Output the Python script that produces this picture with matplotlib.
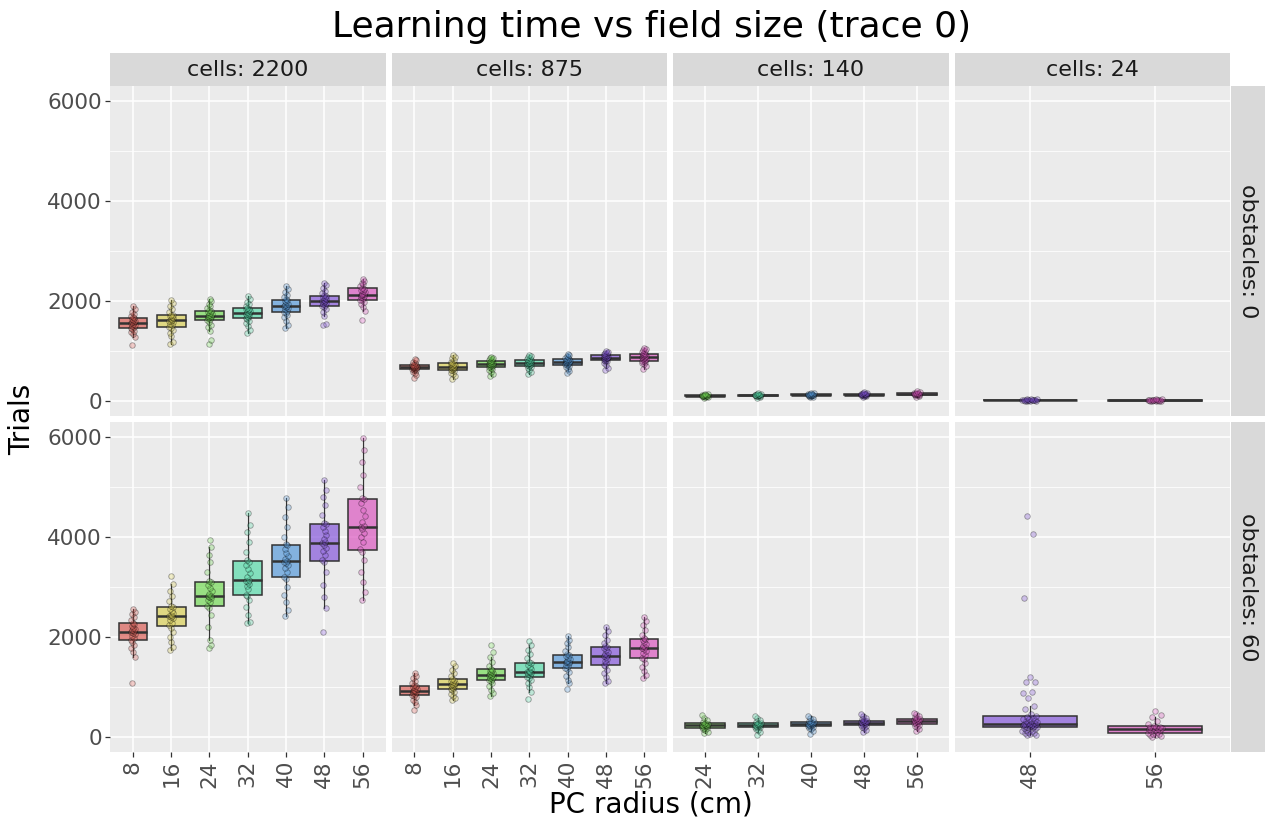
import colorsys

import matplotlib
matplotlib.use("Agg")
import matplotlib.pyplot as plt
import numpy as np
from matplotlib import cbook

W, H = 1266, 823

RADII = [8, 16, 24, 32, 40, 48, 56]
CELLS = [2200, 875, 140, 24]
OBSTACLES = [0, 60]

# radii that were run for each population size (free x scale per column)
RADII_2200 = [8, 16, 24, 32, 40, 48, 56]
RADII_875 = [8, 16, 24, 32, 40, 48, 56]
RADII_140 = [24, 32, 40, 48, 56]
RADII_24 = [48, 56]

# trials to learn, one list per radius, obstacles: 0
OBS0_CELLS2200 = [
    [1113, 1290, 1340, 1380, 1410, 1440, 1465, 1490, 1510, 1530, 1550, 1560, 1575, 1590, 1605, 1625, 1640, 1655, 1680, 1710, 1750, 1790, 1850, 1900],
    [1150, 1190, 1300, 1370, 1420, 1460, 1490, 1520, 1550, 1575, 1595, 1605, 1620, 1640, 1660, 1680, 1700, 1715, 1730, 1780, 1840, 1900, 1960, 2030],
    [1133, 1213, 1400, 1480, 1530, 1590, 1630, 1645, 1660, 1675, 1690, 1697, 1703, 1720, 1740, 1760, 1785, 1805, 1820, 1860, 1900, 1950, 2000, 2050],
    [1370, 1430, 1500, 1560, 1610, 1640, 1655, 1680, 1700, 1720, 1735, 1748, 1758, 1775, 1795, 1815, 1835, 1850, 1860, 1900, 1950, 1990, 2040, 2100],
    [1470, 1530, 1600, 1680, 1730, 1765, 1775, 1810, 1840, 1865, 1885, 1895, 1905, 1925, 1950, 1975, 2000, 2020, 2035, 2080, 2130, 2180, 2240, 2300],
    [1513, 1545, 1700, 1790, 1850, 1885, 1900, 1925, 1950, 1970, 1985, 1995, 2005, 2020, 2040, 2060, 2085, 2100, 2115, 2160, 2210, 2260, 2320, 2367],
    [1613, 1800, 1880, 1940, 1990, 2015, 2030, 2055, 2080, 2100, 2115, 2122, 2132, 2150, 2175, 2200, 2230, 2250, 2260, 2300, 2340, 2370, 2400, 2433],
]
OBS0_CELLS875 = [
    [470, 520, 560, 590, 615, 630, 638, 648, 658, 665, 670, 672, 675, 680, 690, 698, 705, 712, 716, 730, 760, 790, 820, 850],
    [440, 500, 540, 570, 600, 615, 625, 640, 655, 668, 678, 684, 690, 700, 712, 725, 740, 750, 758, 790, 830, 860, 890, 920],
    [500, 550, 590, 620, 650, 668, 680, 695, 708, 718, 726, 731, 736, 745, 755, 768, 782, 797, 805, 820, 840, 855, 870, 880],
    [550, 590, 630, 660, 690, 703, 712, 725, 735, 745, 752, 758, 762, 770, 782, 795, 808, 818, 825, 845, 865, 885, 905, 920],
    [560, 610, 650, 680, 710, 723, 732, 748, 760, 770, 780, 785, 789, 798, 808, 818, 830, 838, 845, 865, 885, 905, 930, 950],
    [620, 670, 720, 760, 795, 810, 818, 830, 842, 852, 860, 865, 869, 878, 888, 898, 910, 918, 925, 940, 955, 970, 985, 1000],
    [650, 700, 740, 770, 790, 797, 806, 820, 835, 850, 866, 877, 883, 895, 910, 922, 935, 945, 952, 975, 995, 1020, 1045, 1070],
]
OBS0_CELLS140 = [
    [60, 75, 85, 92, 97, 100, 103, 104, 106, 108, 111, 115, 118, 125, 135, 150],
    [70, 85, 95, 102, 106, 109, 112, 114, 116, 119, 122, 126, 130, 137, 148, 160],
    [75, 90, 100, 108, 113, 116, 119, 121, 123, 126, 130, 134, 138, 145, 155, 170],
    [80, 95, 108, 116, 121, 124, 127, 129, 131, 134, 138, 143, 148, 155, 165, 180],
    [90, 105, 117, 125, 130, 134, 137, 139, 141, 145, 149, 154, 160, 168, 178, 195],
]
OBS0_CELLS24 = [
    [2, 5, 8, 10, 12, 14, 16, 18, 20, 22, 24, 26, 29, 33, 38, 45],
    [2, 4, 6, 8, 10, 11, 12, 14, 15, 17, 19, 21, 24, 28, 33, 40],
]

# trials to learn, one list per radius, obstacles: 60
OBS60_CELLS2200 = [
    [1087, 1600, 1700, 1780, 1850, 1910, 1945, 1990, 2030, 2060, 2085, 2100, 2115, 2135, 2160, 2190, 2230, 2265, 2290, 2350, 2410, 2460, 2510, 2560],
    [1740, 1800, 1900, 2000, 2100, 2190, 2240, 2290, 2340, 2380, 2405, 2415, 2425, 2450, 2490, 2530, 2570, 2600, 2630, 2720, 2820, 2920, 3070, 3220],
    [1773, 1840, 1940, 2200, 2450, 2590, 2630, 2700, 2740, 2780, 2805, 2815, 2825, 2860, 2920, 2980, 3040, 3100, 3130, 3300, 3500, 3650, 3800, 3940],
    [2273, 2300, 2450, 2600, 2750, 2820, 2850, 2960, 3020, 3070, 3110, 3130, 3150, 3200, 3280, 3360, 3440, 3500, 3550, 3700, 3900, 4100, 4250, 4473],
    [2420, 2550, 2700, 2850, 3000, 3170, 3200, 3300, 3380, 3440, 3490, 3510, 3530, 3570, 3620, 3690, 3770, 3840, 3870, 4000, 4200, 4400, 4600, 4773],
    [2107, 2573, 2800, 3050, 3300, 3500, 3540, 3650, 3720, 3790, 3850, 3875, 3900, 3960, 4040, 4120, 4200, 4260, 4290, 4450, 4650, 4800, 4950, 5140],
    [2740, 2900, 3100, 3300, 3550, 3700, 3755, 3900, 4000, 4080, 4160, 4195, 4220, 4300, 4420, 4550, 4680, 4760, 4790, 5000, 5250, 5500, 5750, 5973],
]
OBS60_CELLS875 = [
    [540, 650, 700, 750, 800, 830, 850, 870, 890, 905, 918, 925, 930, 945, 965, 985, 1005, 1022, 1040, 1080, 1130, 1180, 1230, 1273],
    [740, 790, 830, 870, 910, 945, 965, 990, 1010, 1030, 1045, 1050, 1056, 1070, 1090, 1110, 1130, 1150, 1165, 1220, 1280, 1350, 1420, 1487],
    [820, 880, 950, 1020, 1080, 1120, 1135, 1160, 1190, 1210, 1230, 1237, 1243, 1260, 1285, 1310, 1330, 1350, 1365, 1420, 1500, 1600, 1707, 1833],
    [753, 900, 1000, 1080, 1150, 1185, 1200, 1240, 1265, 1285, 1300, 1305, 1310, 1330, 1370, 1410, 1450, 1475, 1495, 1580, 1660, 1750, 1850, 1927],
    [953, 1080, 1150, 1230, 1300, 1360, 1375, 1420, 1450, 1480, 1500, 1505, 1510, 1530, 1560, 1590, 1620, 1645, 1655, 1720, 1800, 1880, 1950, 2020],
    [1073, 1120, 1200, 1280, 1350, 1415, 1440, 1480, 1530, 1570, 1610, 1622, 1632, 1660, 1700, 1740, 1780, 1805, 1815, 1880, 1950, 2050, 2130, 2207],
    [1173, 1250, 1330, 1400, 1480, 1560, 1575, 1650, 1690, 1730, 1765, 1780, 1795, 1830, 1870, 1910, 1940, 1965, 1975, 2050, 2150, 2250, 2330, 2407],
]
OBS60_CELLS140 = [
    [73, 110, 140, 165, 180, 190, 200, 212, 222, 230, 236, 242, 250, 262, 270, 282, 300, 340, 390, 440],
    [40, 100, 140, 170, 195, 202, 210, 220, 230, 237, 243, 250, 258, 268, 278, 288, 310, 350, 390, 427],
    [53, 120, 160, 185, 208, 215, 225, 235, 245, 256, 264, 270, 280, 290, 298, 308, 325, 355, 390, 420],
    [107, 150, 180, 205, 228, 236, 248, 260, 272, 283, 291, 298, 306, 316, 325, 335, 355, 385, 420, 453],
    [120, 170, 200, 230, 248, 258, 272, 288, 302, 315, 325, 333, 342, 353, 365, 375, 395, 425, 455, 487],
]
OBS60_CELLS24 = [
    [40, 50, 62, 75, 88, 100, 115, 130, 145, 160, 172, 185,
     193, 200, 207, 214, 221, 228, 235, 242, 249, 255, 260, 264,
     270, 280, 290, 300, 312, 325, 340, 355, 370, 385, 400, 415,
     460, 560, 620, 790, 873, 907, 1093, 1107, 1193, 2787, 4060, 4427],
    [7, 20, 35, 48, 60, 70, 75, 100, 120, 135, 148, 156, 164, 172, 182, 192, 202, 210, 222, 260, 320, 400, 433, 527],
]

PANEL_RADII = [RADII_2200, RADII_875, RADII_140, RADII_24]
PANEL_DATA = [
    [OBS0_CELLS2200, OBS0_CELLS875, OBS0_CELLS140, OBS0_CELLS24],
    [OBS60_CELLS2200, OBS60_CELLS875, OBS60_CELLS140, OBS60_CELLS24],
]

# panel geometry in pixels
PANEL_X = [110, 391.5, 673, 954.5]
PANEL_W = 275.5
ROW_Y = [86, 422]
PANEL_H = 330
STRIP = 33

BG = "#EBEBEB"
STRIP_BG = "#D9D9D9"
DARK = "#333333"


def hls_colors(n, h=0.01, l=0.6, s=0.65):
    hues = (np.arange(n) / n + h) % 1
    return [colorsys.hls_to_rgb(hh, l, s) for hh in hues]


COLORS = dict(zip(RADII, hls_colors(len(RADII))))


def rect(x, y, w, h):
    return [x / W, 1 - (y + h) / H, w / W, h / H]


def jitter(n, width=0.06):
    return ((np.arange(n) * 0.618034 + 0.31) % 1 - 0.5) * 2 * width


def draw_panel(ax, radii, groups, show_y, show_x):
    n = len(radii)
    pos = np.arange(1, n + 1)
    ax.set_facecolor(BG)
    for side in ax.spines.values():
        side.set_visible(False)

    stats = cbook.boxplot_stats([np.asarray(g, float) for g in groups], whis=1.5)
    bp = ax.bxp(stats, positions=pos, widths=0.75, patch_artist=True,
                showfliers=False, showcaps=False, manage_ticks=False,
                boxprops=dict(edgecolor=DARK, linewidth=1.1),
                medianprops=dict(color=DARK, linewidth=1.8),
                whiskerprops=dict(color=DARK, linewidth=0.9))
    for patch, r in zip(bp["boxes"], radii):
        patch.set_facecolor((*COLORS[r], 0.7))
        patch.set_zorder(2)

    for p, r, g in zip(pos, radii, groups):
        vals = np.sort(np.asarray(g, float))
        ax.scatter(p + jitter(len(vals)), vals, s=16,
                   facecolor=(*COLORS[r], 0.3), edgecolor=(0, 0, 0, 0.35),
                   linewidth=0.6, zorder=3)

    ax.set_xlim(0.4, n + 0.6)
    ax.set_ylim(-300, 6300)
    ax.set_yticks([0, 2000, 4000, 6000])
    ax.set_yticks([1000, 3000, 5000], minor=True)
    ax.set_xticks(pos)
    ax.set_xticklabels([str(r) for r in radii], rotation=90)
    ax.grid(which="major", color="white", linewidth=1.1)
    ax.grid(which="minor", axis="y", color="white", linewidth=0.55)
    ax.set_axisbelow(True)
    ax.tick_params(axis="both", which="major", length=3.3, width=0.9,
                   color=DARK, labelcolor="#4D4D4D", labelsize=15.5, pad=2.5)
    ax.tick_params(axis="y", which="minor", length=0)
    if not show_y:
        ax.tick_params(axis="y", which="major", length=0, labelleft=False)
    if not show_x:
        ax.tick_params(axis="x", length=0, labelbottom=False)


fig = plt.figure(figsize=(W / 100, H / 100), dpi=100)

for row, obst in enumerate(OBSTACLES):
    for col, cells in enumerate(CELLS):
        ax = fig.add_axes(rect(PANEL_X[col], ROW_Y[row], PANEL_W, PANEL_H))
        draw_panel(ax, PANEL_RADII[col], PANEL_DATA[row][col],
                   show_y=(col == 0), show_x=(row == 1))

    # facet strip on the right
    sax = fig.add_axes(rect(1231, ROW_Y[row], 34, PANEL_H))
    sax.set_facecolor(STRIP_BG)
    sax.set_xticks([])
    sax.set_yticks([])
    for side in sax.spines.values():
        side.set_visible(False)
    sax.text(0.5, 0.5, f"obstacles: {obst}", rotation=-90, ha="center",
             va="center", fontsize=16, color="#1A1A1A", transform=sax.transAxes)

for col, cells in enumerate(CELLS):
    sax = fig.add_axes(rect(PANEL_X[col], ROW_Y[0] - STRIP, PANEL_W, STRIP))
    sax.set_facecolor(STRIP_BG)
    sax.set_xticks([])
    sax.set_yticks([])
    for side in sax.spines.values():
        side.set_visible(False)
    sax.text(0.5, 0.5, f"cells: {cells}", ha="center", va="center",
             fontsize=16, color="#1A1A1A", transform=sax.transAxes)

fig.text(652 / W, 1 - 27 / H, "Learning time vs field size (trace 0)",
         ha="center", va="center", fontsize=26)
fig.text(22 / W, 1 - 419 / H, "Trials", rotation=90, ha="center",
         va="center", fontsize=20)
fig.text(651 / W, 1 - 804 / H, "PC radius (cm)", ha="center", va="center",
         fontsize=20)

fig.savefig("out.png", dpi=100)
